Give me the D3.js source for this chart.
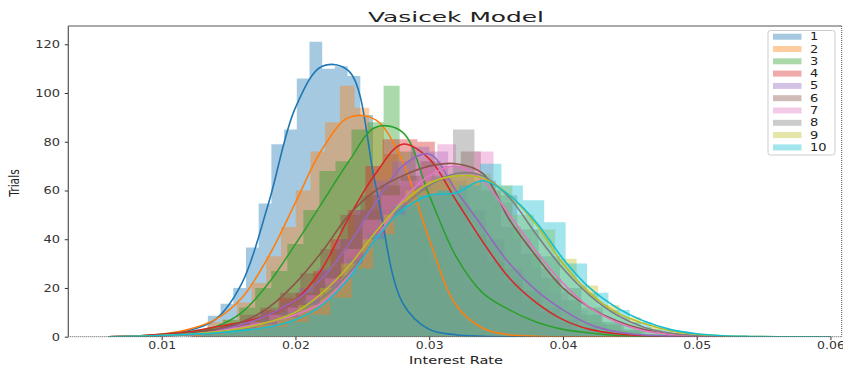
<!DOCTYPE html>
<html><head><meta charset="utf-8">
<script src="https://cdn.jsdelivr.net/npm/d3@7"></script>
<style>html,body{margin:0;padding:0;background:#fff;} svg{display:block;font-family:"DejaVu Sans",sans-serif;}</style>
</head><body><svg id="c" width="843" height="365"></svg>
<script>
// ---------- data ----------
const seriesNames = ["1","2","3","4","5","6","7","8","9","10"];
const colors = ["#1f77b4","#ff7f0e","#2ca02c","#d62728","#9467bd","#8c564b","#e377c2","#7f7f7f","#bcbd22","#17becf"];
const xTicks = [0.01,0.02,0.03,0.04,0.05,0.06];
const xTickLabels = ["0.01","0.02","0.03","0.04","0.05","0.06"];
const yTicks = [0,20,40,60,80,100,120];
const yTickLabels = ["0","20","40","60","80","100","120"];

// KDE curves evaluated on a shared grid of interest rates
const kdeX = [0.006,0.008,0.010,0.012,0.014,0.016,0.018,0.020,0.022,0.024,0.026,0.028,0.030,0.032,0.034,0.036,0.038,0.040,0.042,0.044,0.046,0.048,0.050,0.052,0.054,0.056,0.058,0.060];
const kde1  = [0,0.2,0.8,2.5,7,22,55,94,111,109,62,14,3,0.8,0.2,0,0,0,0,0,0,0,0,0,0,0,0,0];
const kde2  = [0,0.3,1,3,7,16,33,55,77,90,89,72,40,13,3.5,0.8,0.2,0,0,0,0,0,0,0,0,0,0,0];
const kde3  = [0,0.3,1,2,4,10,22,38,55,72,86,84,58,33,18,11,6,3,1.5,0.5,0.2,0,0,0,0,0,0,0];
const kde4  = [0,0.3,1,2,4,6,9,15,28,49,67,79,73,56,39,24,14,7,3,1.2,0.4,0.1,0,0,0,0,0,0];
const kde5  = [0,0.2,0.5,1,2.5,5,9,15,24,38,55,70,75,60,45,30,19,11,5,2,0.7,0.2,0,0,0,0,0,0];
const kde6  = [0,0.2,0.5,1.5,3,6,12,22,35,50,60,66,70,71,67,48,33,20,12,6.5,3,1,0.3,0,0,0,0,0];
const kde7  = [0,0.1,0.3,0.8,2,4,6,9,14,25,40,56,66,70,64,50,35,22,12,6,2.5,1,0.3,0,0,0,0,0];
const kde8  = [0,0.1,0.3,0.7,1.5,3,6,10,16,26,40,53,62,67,66,57,42,28,17,9,4,1.5,0.5,0.1,0,0,0,0];
const kde9  = [0,0.2,0.5,1,2,3.5,6,10,18,29,43,55,63,66,65,58,46,30,18,10,5.5,2.5,1,0.3,0.1,0,0,0];
const kde10 = [0,0.2,0.5,1,1.5,2.5,4,7,13,24,40,52,58,59,64,58,47,32,20,12,6.5,3,1.2,0.4,0.1,0,0,0];

// histograms: first bin edge, bin width, bar heights (density)
const histStart = [0.0125,0.01232,0.01219,0.01222,0.01182,0.01286,0.01241,0.01258,0.01222,0.01300];
const histWidth = [0.00095,0.0011,0.0012,0.0013,0.0014,0.0015,0.0014,0.0016,0.0016,0.0016];
const hist1  = [3,8.6,13.5,20,36.6,54.7,79,85,106,121,110,111,107,91,52,30,12,5,2,1];
const hist2  = [3,6,7,14,22,33,45,60,76,88,103,94,86,75,62,45,30,14,6,2,1];
const hist3  = [2,4,7,12,20,27,38,52,68,72,85,88,103,76,62,44,30,21,15,11,9,6,4,2,1];
const hist4  = [1.5,3,5,7,11,16,18,27,40,52,70,81,81,80,65,55,42,31,22,15,10,6,3,1];
const hist5  = [1,2,4,6,10,14,20,28,40,52,64,72,78,76,64,52,40,28,19,12,7,4,2,1];
const hist6  = [3,5,9,12,18,26,36,50,58,62,66,72,70,76,60,45,34,24,15,9,5,2.5,1];
const hist7  = [1,2.5,4,6,9,12,17,24,36,48,58,64,70,79,70,76,55,40,28,18,11,6,3,1];
const hist8  = [1.5,2.5,4,7,10,15,22,32,42,52,62,66,85,64,58,44,33,20,12,6,3,1];
const hist9  = [1,2,3.5,5,8,13,20,30,40,50,60,64,66,67,62,50,44,32,21,13,8,4,1.5];
const hist10 = [1,2,3,4,6,9,16,28,42,54,58,60,62,71,62,56,47,30,18,11,6,3,1];

const kdes = [kde1,kde2,kde3,kde4,kde5,kde6,kde7,kde8,kde9,kde10];
const hists = [hist1,hist2,hist3,hist4,hist5,hist6,hist7,hist8,hist9,hist10];

// ---------- layout ----------
const L = 68.3, R = 841.7, T = 26, B = 336.7;
const SX = 1.3; // horizontal text stretch seen in the reference
const x = d3.scaleLinear().domain([0.003017, 0.06084]).range([L, R]);
const y = d3.scaleLinear().domain([0, 127.5]).range([B, T]);

const svg = d3.select("#c");
svg.append("defs").append("clipPath").attr("id","clip")
  .append("rect").attr("x",L).attr("y",T).attr("width",R-L).attr("height",B-T);

// histograms (patches drawn first, like matplotlib zorder)
const area = d3.area().curve(d3.curveStepAfter)
  .x(d => x(d[0])).y0(y(0)).y1(d => y(d[1]));
const gh = svg.append("g").attr("clip-path","url(#clip)");
hists.forEach((h, s) => {
  const pts = h.map((v, i) => [histStart[s] + i*histWidth[s], v]);
  pts.push([histStart[s] + h.length*histWidth[s], h[h.length-1]]);
  gh.append("path").attr("d", area(pts)).attr("fill", colors[s]).attr("fill-opacity", 0.4);
});

// KDE lines
const line = d3.line().curve(d3.curveCatmullRom.alpha(0.5)).x(d => x(d[0])).y(d => y(d[1]));
const gl = svg.append("g").attr("clip-path","url(#clip)");
kdes.forEach((k, s) => {
  gl.append("path").attr("d", line(k.map((v,i)=>[kdeX[i], v])))
    .attr("fill","none").attr("stroke", colors[s]).attr("stroke-width",1.6);
});

// axes
const ax = svg.append("g").attr("transform",`translate(0,${B})`)
  .call(d3.axisBottom(x).tickValues(xTicks).tickFormat((d,i)=>xTickLabels[i]).tickSize(3.5).tickPadding(3));
ax.select(".domain").remove();
ax.selectAll(".tick line").attr("stroke","#333");
ax.selectAll(".tick text").attr("y",0).attr("dy",0)
  .attr("transform",`translate(0,12.6) scale(${SX},1)`)
  .style("font-size","9.6px").attr("fill","#333").style("font-family","DejaVu Sans");

const ay = svg.append("g").attr("transform",`translate(${L},0)`)
  .call(d3.axisLeft(y).tickValues(yTicks).tickFormat((d,i)=>yTickLabels[i]).tickSize(3.5).tickPadding(3));
ay.select(".domain").remove();
ay.selectAll(".tick line").attr("stroke","#333");
ay.selectAll(".tick text").attr("x",0).attr("dy","0.35em")
  .attr("transform",`translate(-8.3,0) scale(${SX},1)`)
  .style("font-size","10px").attr("fill","#333").style("font-family","DejaVu Sans");

// spines
svg.append("line").attr("x1",L).attr("x2",L).attr("y1",T).attr("y2",B).attr("stroke","#555").attr("stroke-width",1.2);
svg.append("line").attr("x1",L).attr("x2",R).attr("y1",T).attr("y2",T).attr("stroke","#555").attr("stroke-width",1.2);
svg.append("line").attr("x1",R).attr("x2",R).attr("y1",T).attr("y2",B).attr("stroke","#555").attr("stroke-width",1).attr("stroke-dasharray","1,1");
svg.append("line").attr("x1",L).attr("x2",R).attr("y1",B).attr("y2",B).attr("stroke","#555").attr("stroke-width",1).attr("stroke-dasharray","1,1");

// titles
svg.append("text").attr("x",456).attr("y",22).attr("text-anchor","middle")
  .attr("textLength",176).attr("lengthAdjust","spacingAndGlyphs")
  .style("font-size","14px").attr("fill","#222").text("Vasicek Model");
svg.append("text").attr("transform",`translate(456,363.5) scale(${SX},1)`).attr("text-anchor","middle")
  .style("font-size","11.2px").attr("fill","#222").text("Interest Rate");
svg.append("text").attr("transform",`translate(19,183) scale(${SX},1) rotate(-90)`).attr("text-anchor","middle")
  .style("font-size","10.7px").attr("fill","#222").text("Trials");

// legend
const lg = svg.append("g");
lg.append("rect").attr("x",768).attr("y",30.5).attr("width",67).attr("height",124.5).attr("rx",2.5)
  .attr("fill","#fff").attr("fill-opacity",0.8).attr("stroke","#ccc").attr("stroke-width",1);
seriesNames.forEach((n, i) => {
  const cy = 36.7 + i*12.3;
  lg.append("rect").attr("x",773).attr("y",cy-3).attr("width",28.5).attr("height",6)
    .attr("fill",colors[i]).attr("fill-opacity",0.4);
  lg.append("text").attr("transform",`translate(810,${cy}) scale(${SX},1)`).attr("dy","0.35em")
    .style("font-size","10px").attr("fill","#222").text(n);
});
</script></body></html>
